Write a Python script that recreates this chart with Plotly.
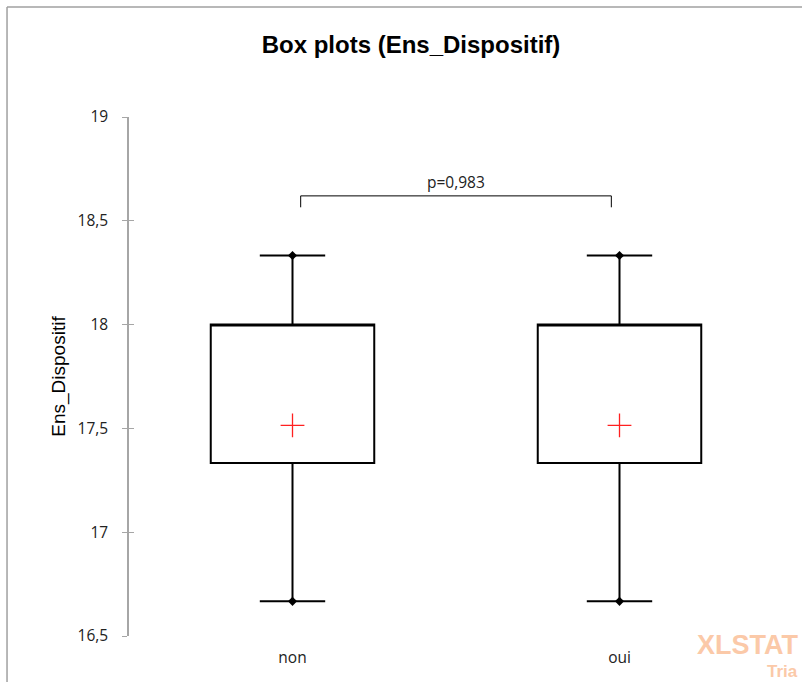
import plotly.graph_objects as go

categories = ["non", "oui"]
q1 = [17.333, 17.333]
median = [18.0, 18.0]
q3 = [18.0, 18.0]
lower_fence = [16.667, 16.667]
upper_fence = [18.333, 18.333]
means = [17.515, 17.515]
p_label = "p=0,983"
y_ticks = [16.5, 17, 17.5, 18, 18.5, 19]

xpos = list(range(len(categories)))

fig = go.Figure()

for i, c in enumerate(categories):
    fig.add_trace(go.Box(
        x=[xpos[i]], q1=[q1[i]], median=[median[i]], q3=[q3[i]],
        lowerfence=[lower_fence[i]], upperfence=[upper_fence[i]],
        width=0.5, whiskerwidth=0.4,
        fillcolor="white", line=dict(color="black", width=2),
        name=c, showlegend=False, hoverinfo="skip", boxpoints=False,
    ))

# min / max markers
fig.add_trace(go.Scatter(
    x=xpos + xpos, y=lower_fence + upper_fence, mode="markers",
    marker=dict(symbol="diamond", size=7, color="black"),
    showlegend=False, hoverinfo="skip"))

# mean markers
fig.add_trace(go.Scatter(
    x=xpos, y=means, mode="markers",
    marker=dict(symbol="cross-thin", size=17, line=dict(color="#ff2020", width=1.3)),
    showlegend=False, hoverinfo="skip"))

# significance bracket
b_y = 18.62
b_drop = 0.055
off = 0.025
fig.add_trace(go.Scatter(
    x=[xpos[0] + off, xpos[0] + off, xpos[1] - off, xpos[1] - off],
    y=[b_y - b_drop, b_y, b_y, b_y - b_drop], mode="lines",
    line=dict(color="black", width=1), showlegend=False, hoverinfo="skip"))
fig.add_annotation(x=(xpos[0] + xpos[1]) / 2, y=b_y, text=p_label, showarrow=False,
                   yanchor="bottom", yshift=1,
                   font=dict(family="Open Sans", size=15.5, color="#222"))

# outer frame (left and top edges only visible)
fig.add_shape(type="line", xref="paper", yref="paper",
              x0=-0.1865, x1=-0.1865, y0=-0.2, y1=1.2119,
              line=dict(color="#a0a0a0", width=1.5), layer="below")
fig.add_shape(type="line", xref="paper", yref="paper",
              x0=-0.1865, x1=1.2, y0=1.2119, y1=1.2119,
              line=dict(color="#a0a0a0", width=1.5), layer="below")

# watermark
fig.add_annotation(xref="paper", yref="paper", x=1.0265, y=-0.0173, text="<b>XLSTAT</b>",
                   showarrow=False, xanchor="right", yanchor="middle",
                   font=dict(family="Liberation Sans", size=27, color="#fbc9a8"))
fig.add_annotation(xref="paper", yref="paper", x=1.0265, y=-0.0693, text="<b>Tria</b>",
                   showarrow=False, xanchor="right", yanchor="middle",
                   font=dict(family="Liberation Sans", size=17, color="#fbc9a8"))

fig.update_layout(
    width=802, height=682,
    margin=dict(l=129, r=19, t=117, b=46),
    paper_bgcolor="white", plot_bgcolor="white",
    separators=", ",
    title=dict(text="<b>Box plots (Ens_Dispositif)</b>", x=411 / 802, xanchor="center",
               y=1 - 45 / 682, yanchor="middle", yref="container",
               font=dict(family="Liberation Sans", size=24, color="black")),
    xaxis=dict(range=[-0.5, 1.5], tickvals=xpos, ticktext=categories,
               showline=False, showgrid=False, zeroline=False, ticks="",
               tickfont=dict(family="Open Sans", size=15.5, color="#222"), ticklabelstandoff=10),
    yaxis=dict(range=[16.5, 19], tickvals=y_ticks, showgrid=False, zeroline=False,
               showline=True, linecolor="#a6a6a6", linewidth=1.5,
               ticks="outside", ticklen=5, tickcolor="#a6a6a6", tickwidth=1,
               ticklabelstandoff=11,
               tickfont=dict(family="Open Sans", size=15.5, color="#222"),
               title=dict(text="Ens_Dispositif", standoff=7,
                          font=dict(family="Liberation Sans", size=19, color="black"))),
    yaxis2=dict(range=[16.5, 19], tickvals=y_ticks, overlaying="y", side="left",
                showgrid=False, zeroline=False, showline=False, showticklabels=False,
                ticks="inside", ticklen=5, tickcolor="#a6a6a6", tickwidth=1),
)
fig.add_trace(go.Scatter(x=[None], y=[None], yaxis="y2", showlegend=False, hoverinfo="skip"))

fig.write_html("out.html", config={"displayModeBar": False},
               post_script="document.body.style.margin='0';document.body.style.overflow='hidden';")
